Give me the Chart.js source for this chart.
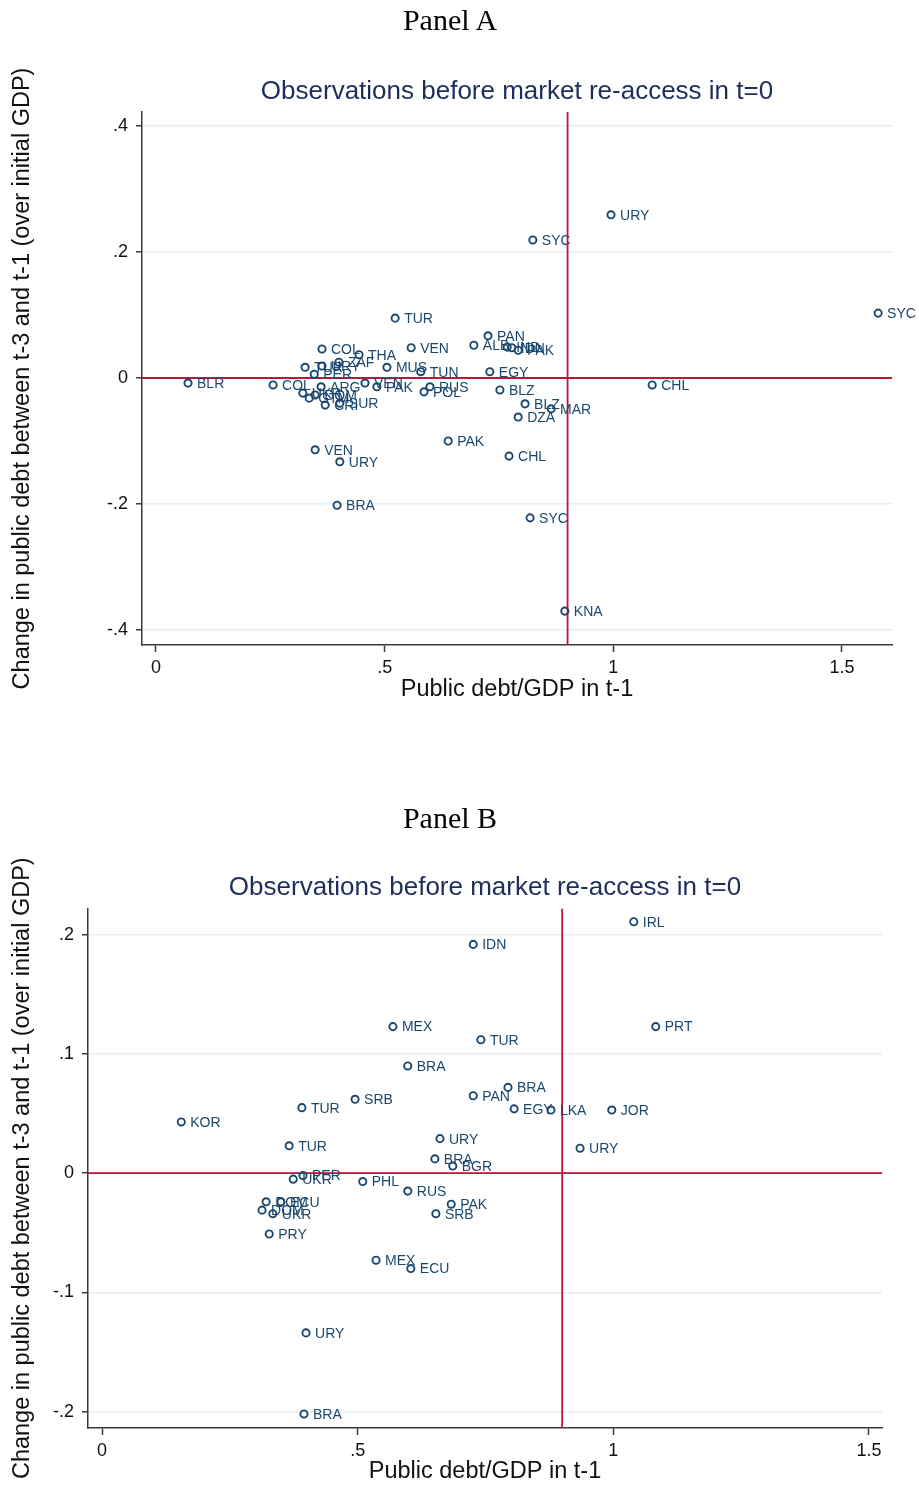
<!DOCTYPE html>
<html>
<head>
<meta charset="utf-8">
<script src="https://cdn.jsdelivr.net/npm/chart.js@4.4.1/dist/chart.umd.min.js"></script>
<style>
body { margin: 0; background: #fff; }
.page { position: relative; width: 919px; height: 1486px; overflow: hidden; }
.box { position: absolute; left: 0; }
.panel-title { position: absolute; left: 0; width: 900px; text-align: center;
  font-family: 'Liberation Serif', 'Times New Roman', serif; font-size: 30px; color: #000; line-height: 34px; }
</style>
</head>
<body>
<div class="page">
  <div class="box" style="top:0px"><canvas id="chartA" width="919" height="740"></canvas></div>
  <div class="box" style="top:780px"><canvas id="chartB" width="919" height="706"></canvas></div>
  <div class="panel-title" style="top:3px">Panel A</div>
  <div class="panel-title" style="top:801px">Panel B</div>
</div>
<script>
// tick values and labels
const xTicks = [0, 0.5, 1, 1.5];
const xTickLabels = ['0', '.5', '1', '1.5'];
const yTicksA = [-0.4, -0.2, 0, 0.2, 0.4];
const yTickLabelsA = ['-.4', '-.2', '0', '.2', '.4'];
const yTicksB = [-0.2, -0.1, 0, 0.1, 0.2];
const yTickLabelsB = ['-.2', '-.1', '0', '.1', '.2'];

const thresholdDebt = 0.9;
const zeroChange = 0;

// Panel A: debt/GDP in t-1, change in debt between t-3 and t-1
const codesA = ['URY', 'SYC', 'SYC', 'TUR', 'PAN', 'ALB', 'IND', 'IDN', 'PAK', 'VEN',
  'COL', 'THA', 'ZAF', 'TUR', 'URY', 'PER', 'MUS', 'TUN', 'EGY', 'BLR',
  'COL', 'ARG', 'VEN', 'PAK', 'RUS', 'POL', 'BLZ', 'CHL', 'UKR', 'DOM',
  'GTM', 'CRI', 'SUR', 'BLZ', 'MAR', 'DZA', 'PAK', 'CHL', 'VEN', 'URY',
  'BRA', 'SYC', 'KNA'];
const debtA = [0.995, 0.824, 1.579, 0.523, 0.726, 0.695, 0.768, 0.778, 0.792, 0.558,
  0.363, 0.444, 0.400, 0.326, 0.363, 0.346, 0.505, 0.579, 0.730, 0.070,
  0.256, 0.361, 0.457, 0.483, 0.599, 0.586, 0.752, 1.085, 0.321, 0.348,
  0.335, 0.370, 0.402, 0.807, 0.864, 0.792, 0.639, 0.772, 0.348, 0.402,
  0.396, 0.818, 0.894];
const changeA = [0.259, 0.219, 0.103, 0.095, 0.067, 0.052, 0.049, 0.048, 0.044, 0.048,
  0.046, 0.037, 0.025, 0.017, 0.019, 0.006, 0.017, 0.010, 0.010, -0.008,
  -0.011, -0.014, -0.008, -0.014, -0.014, -0.022, -0.019, -0.011, -0.024, -0.027,
  -0.032, -0.043, -0.040, -0.041, -0.049, -0.062, -0.100, -0.124, -0.114, -0.133,
  -0.202, -0.222, -0.370];

// Panel B
const codesB = ['IRL', 'IDN', 'MEX', 'PRT', 'TUR', 'BRA', 'BRA', 'PAN', 'SRB', 'TUR',
  'EGY', 'LKA', 'JOR', 'KOR', 'URY', 'TUR', 'URY', 'BRA', 'BGR', 'PER',
  'UKR', 'PHL', 'RUS', 'PAK', 'SRB', 'DOM', 'ECU', 'DOM', 'UKR', 'PRY',
  'MEX', 'ECU', 'URY', 'BRA'];
const debtB = [1.040, 0.726, 0.569, 1.083, 0.741, 0.598, 0.794, 0.726, 0.495, 0.391,
  0.806, 0.878, 0.997, 0.155, 0.661, 0.366, 0.935, 0.651, 0.686, 0.393,
  0.374, 0.510, 0.598, 0.683, 0.653, 0.321, 0.350, 0.313, 0.334, 0.327,
  0.536, 0.604, 0.399, 0.395];
const changeB = [0.211, 0.192, 0.123, 0.123, 0.112, 0.090, 0.072, 0.065, 0.062, 0.055,
  0.054, 0.053, 0.053, 0.043, 0.029, 0.023, 0.021, 0.012, 0.006, -0.002,
  -0.005, -0.007, -0.015, -0.026, -0.034, -0.024, -0.024, -0.031, -0.034, -0.051,
  -0.073, -0.080, -0.134, -0.202];

const navy = '#1a476f';
const red = '#c4123a';
const axisColor = '#3a3a3a';
const sans = "'Liberation Sans', Arial, Helvetica, sans-serif";

const pointLabels = {
    id: 'pointLabels',
    afterDatasetsDraw(chart, args, opts) {
        const meta = chart.getDatasetMeta(0);
        const ctx = chart.ctx;
        ctx.save();
        ctx.font = '14px ' + sans;
        ctx.fillStyle = navy;
        ctx.textBaseline = 'middle';
        meta.data.forEach((pt, i) => {
            ctx.fillText(opts.codes[i], pt.x + 9, pt.y + 1);
        });
        ctx.restore();
    }
};

function makeChart(id, codes, debt, change, yTicks, yTickLabels, box) {
    const ctx = document.getElementById(id).getContext('2d');
    return new Chart(ctx, {
        type: 'scatter',
        data: {
            datasets: [
                {
                    data: debt.map((x, i) => ({ x: x, y: change[i] })),
                    pointStyle: 'circle',
                    pointRadius: 3.6,
                    pointBorderWidth: 1.9,
                    pointBorderColor: navy,
                    pointBackgroundColor: 'rgba(0,0,0,0)'
                },
                {
                    data: [{ x: box.xMin, y: zeroChange }, { x: box.xMax, y: zeroChange }],
                    showLine: true,
                    borderColor: red,
                    borderWidth: 1.8,
                    pointRadius: 0
                },
                {
                    data: [{ x: thresholdDebt, y: box.yMin }, { x: thresholdDebt, y: box.yMax }],
                    showLine: true,
                    borderColor: red,
                    borderWidth: 1.8,
                    pointRadius: 0
                }
            ]
        },
        options: {
            responsive: false,
            animation: false,
            layout: { padding: { top: box.padTop, left: 0, right: box.padRight, bottom: box.padBottom } },
            scales: {
                x: {
                    type: 'linear',
                    min: box.xMin,
                    max: box.xMax,
                    afterBuildTicks: scale => { scale.ticks = xTicks.map(v => ({ value: v })); },
                    afterFit: scale => { scale.height = box.xHeight; },
                    ticks: {
                        callback: (v, i) => xTickLabels[i],
                        font: { family: sans, size: 18 },
                        color: '#111',
                        padding: 5,
                        maxRotation: 0
                    },
                    grid: { drawOnChartArea: false, tickLength: 7, tickColor: axisColor, tickWidth: 1.5 },
                    border: { color: axisColor, width: 1.5 },
                    title: {
                        display: true,
                        text: 'Public debt/GDP in t-1',
                        font: { family: sans, size: 23.5 },
                        color: '#111',
                        padding: { top: 0, bottom: box.xTitlePad }
                    }
                },
                y: {
                    type: 'linear',
                    min: box.yMin,
                    max: box.yMax,
                    afterBuildTicks: scale => { scale.ticks = yTicks.map(v => ({ value: v })); },
                    afterFit: scale => { scale.width = box.yWidth; },
                    ticks: {
                        callback: (v, i) => yTickLabels[i],
                        font: { family: sans, size: 18 },
                        color: '#111',
                        padding: 8
                    },
                    grid: { color: '#e6eef1', lineWidth: 1.5, tickLength: 6, tickColor: axisColor, tickWidth: 1.5 },
                    border: { color: axisColor, width: 1.5 },
                    title: {
                        display: true,
                        text: 'Change in public debt between t-3 and t-1 (over initial GDP)',
                        font: { family: sans, size: 23.5 },
                        color: '#111',
                        padding: { top: 8, bottom: 0 }
                    }
                }
            },
            plugins: {
                legend: { display: false },
                tooltip: { enabled: false },
                title: {
                    display: true,
                    text: 'Observations before market re-access in t=0',
                    fullSize: false,
                    color: '#1f2d5c',
                    font: { family: sans, size: 26, weight: 'normal' },
                    padding: { top: 0, bottom: box.titlePad }
                },
                pointLabels: { codes: codes }
            }
        },
        plugins: [pointLabels]
    });
}

makeChart('chartA', codesA, debtA, changeA, yTicksA, yTickLabelsA, {
    xMin: -0.0306, xMax: 1.6094, yMin: -0.4238, yMax: 0.4222,
    padTop: 76.4, titlePad: 4.4, padRight: 27, padBottom: 35, xHeight: 60, xTitlePad: 1, yWidth: 142
});

makeChart('chartB', codesB, debtB, changeB, yTicksB, yTickLabelsB, {
    xMin: -0.0274, xMax: 1.5255, yMin: -0.2138, yMax: 0.2222,
    padTop: 92.4, titlePad: 4.8, padRight: 37, padBottom: 0, xHeight: 58, xTitlePad: 0, yWidth: 88
});
</script>
</body>
</html>
